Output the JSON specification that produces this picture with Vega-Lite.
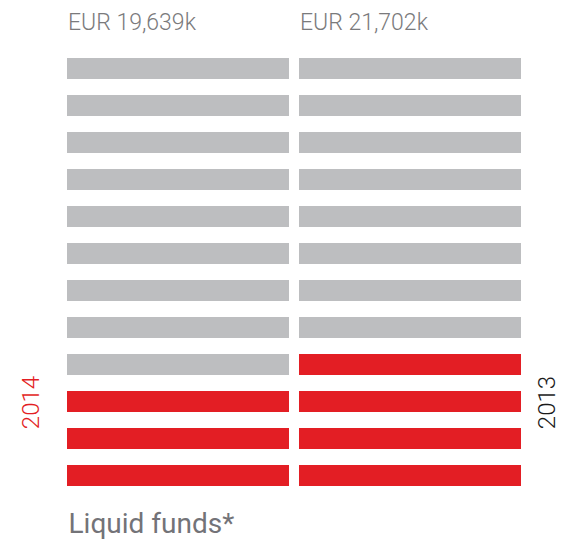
{
  "$schema": "https://vega.github.io/schema/vega-lite/v6.json",
  "width": 454,
  "height": 428,
  "autosize": {"type": "none"},
  "padding": {"left": 67, "top": 58, "right": 40, "bottom": 54},
  "background": "white",
  "config": {"view": {"stroke": null}, "font": "Roboto"},
  "data": {
    "values": [
      {"year": "2014", "amount": "EUR 19,639k", "row": 1, "status": "filled"},
      {"year": "2014", "amount": "EUR 19,639k", "row": 2, "status": "filled"},
      {"year": "2014", "amount": "EUR 19,639k", "row": 3, "status": "filled"},
      {"year": "2014", "amount": "EUR 19,639k", "row": 4, "status": "empty"},
      {"year": "2014", "amount": "EUR 19,639k", "row": 5, "status": "empty"},
      {"year": "2014", "amount": "EUR 19,639k", "row": 6, "status": "empty"},
      {"year": "2014", "amount": "EUR 19,639k", "row": 7, "status": "empty"},
      {"year": "2014", "amount": "EUR 19,639k", "row": 8, "status": "empty"},
      {"year": "2014", "amount": "EUR 19,639k", "row": 9, "status": "empty"},
      {"year": "2014", "amount": "EUR 19,639k", "row": 10, "status": "empty"},
      {"year": "2014", "amount": "EUR 19,639k", "row": 11, "status": "empty"},
      {"year": "2014", "amount": "EUR 19,639k", "row": 12, "status": "empty"},
      {"year": "2013", "amount": "EUR 21,702k", "row": 1, "status": "filled"},
      {"year": "2013", "amount": "EUR 21,702k", "row": 2, "status": "filled"},
      {"year": "2013", "amount": "EUR 21,702k", "row": 3, "status": "filled"},
      {"year": "2013", "amount": "EUR 21,702k", "row": 4, "status": "filled"},
      {"year": "2013", "amount": "EUR 21,702k", "row": 5, "status": "empty"},
      {"year": "2013", "amount": "EUR 21,702k", "row": 6, "status": "empty"},
      {"year": "2013", "amount": "EUR 21,702k", "row": 7, "status": "empty"},
      {"year": "2013", "amount": "EUR 21,702k", "row": 8, "status": "empty"},
      {"year": "2013", "amount": "EUR 21,702k", "row": 9, "status": "empty"},
      {"year": "2013", "amount": "EUR 21,702k", "row": 10, "status": "empty"},
      {"year": "2013", "amount": "EUR 21,702k", "row": 11, "status": "empty"},
      {"year": "2013", "amount": "EUR 21,702k", "row": 12, "status": "empty"}
    ]
  },
  "resolve": {"axis": {"x": "independent", "y": "independent"}},
  "layer": [
    {
      "mark": {"type": "bar"},
      "encoding": {
        "x": {
          "field": "amount",
          "type": "nominal",
          "sort": ["EUR 19,639k", "EUR 21,702k"],
          "scale": {"paddingInner": 0.0431, "paddingOuter": 0},
          "axis": {
            "orient": "top",
            "title": null,
            "domain": false,
            "ticks": false,
            "tickSize": 0,
            "labelAlign": "left",
            "labelOffset": -110,
            "labelBaseline": "alphabetic",
            "labelPadding": 29,
            "labelFontSize": 23,
            "labelFontWeight": 300,
            "labelColor": "#7a7a7c",
            "labelAngle": 0
          }
        },
        "y": {
          "field": "row",
          "type": "ordinal",
          "sort": "descending",
          "scale": {"paddingInner": 0.4324, "paddingOuter": 0},
          "axis": {
            "orient": "left",
            "labels": false,
            "ticks": false,
            "tickSize": 0,
            "domain": false,
            "title": "2014",
            "titleColor": "#e31e24",
            "titleFontSize": 24,
            "titleFontWeight": 300,
            "titleAngle": 270,
            "titleAlign": "center",
            "titleBaseline": "middle",
            "titleX": -36,
            "titleY": 344
          }
        },
        "color": {
          "field": "status",
          "type": "nominal",
          "scale": {"domain": ["filled", "empty"], "range": ["#e31e24", "#bdbec0"]},
          "legend": null
        }
      }
    },
    {
      "mark": {"type": "bar", "opacity": 0},
      "encoding": {
        "x": {
          "field": "amount",
          "type": "nominal",
          "sort": ["EUR 19,639k", "EUR 21,702k"],
          "axis": {
            "orient": "bottom",
            "labels": false,
            "ticks": false,
            "tickSize": 0,
            "domain": false,
            "title": "Liquid funds*",
            "titleColor": "#737378",
            "titleFontSize": 28,
            "titleFontWeight": 400,
            "titleAlign": "left",
            "titleAnchor": "start",
            "titleBaseline": "alphabetic",
            "titleX": 1,
            "titleY": 46
          }
        },
        "y": {
          "field": "row",
          "type": "ordinal",
          "sort": "descending",
          "axis": {
            "orient": "right",
            "labels": false,
            "ticks": false,
            "tickSize": 0,
            "domain": false,
            "title": "2013",
            "titleColor": "#1a1a1a",
            "titleFontSize": 24,
            "titleFontWeight": 300,
            "titleAngle": 270,
            "titleAlign": "center",
            "titleBaseline": "middle",
            "titleX": 26,
            "titleY": 344
          }
        }
      }
    }
  ]
}
